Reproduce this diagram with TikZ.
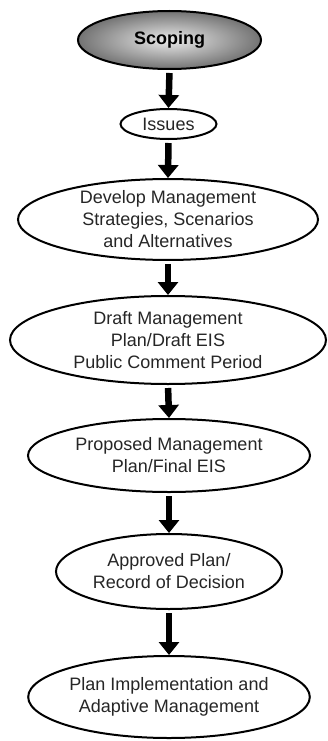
\documentclass[tikz,border=0pt]{standalone}
\usepackage{fontspec}
\setmainfont{Liberation Sans}
\usetikzlibrary{shapes.geometric,arrows.meta}
\begin{document}
\begin{tikzpicture}[x=1pt,y=-1pt,
  oval/.style={ellipse, draw=black, line width=2pt, align=center, inner sep=0pt,
    text=black!85, font=\fontsize{18}{22}\selectfont},
  flowarrow/.style={line width=6.5pt, -{Triangle[width=20pt,length=13pt]}, shorten <=3pt}]
\useasboundingbox (0,0) rectangle (328,741);
\node[oval, minimum width=183pt, minimum height=58pt, inner color=black!8, outer color=black!55,
  text=black, font=\fontsize{18}{22}\selectfont\bfseries] (scoping) at (169.5,40) {Scoping};
\node[oval, fill=white, minimum width=96pt, minimum height=30pt] (issues) at (168.5,124) {Issues};
\node[oval, fill=white, minimum width=300pt, minimum height=75pt] (develop) at (168,219.5)
  {Develop Management\\Strategies, Scenarios\\and Alternatives};
\node[oval, fill=white, minimum width=316pt, minimum height=88pt] (draft) at (168,340)
  {Draft Management\\Plan/Draft EIS\\Public Comment Period};
\node[oval, fill=white, minimum width=282pt, minimum height=73pt] (proposed) at (169,455.5)
  {Proposed Management\\Plan/Final EIS};
\node[oval, fill=white, minimum width=226pt, minimum height=75pt] (approved) at (169,571.5)
  {Approved Plan/\\Record of Decision};
\node[oval, fill=white, minimum width=260pt, minimum height=82pt] (plan) at (169,697)
  {Plan Implementation and\\Adaptive Management};
\draw[flowarrow] (scoping.south) -- (issues.north);
\draw[flowarrow] (issues.south) -- (develop.north);
\draw[flowarrow] (develop.south) -- (draft.north);
\draw[flowarrow] (draft.south) -- (proposed.north);
\draw[flowarrow] (proposed.south) -- (approved.north);
\draw[flowarrow] (approved.south) -- (plan.north);
\end{tikzpicture}
\end{document}
